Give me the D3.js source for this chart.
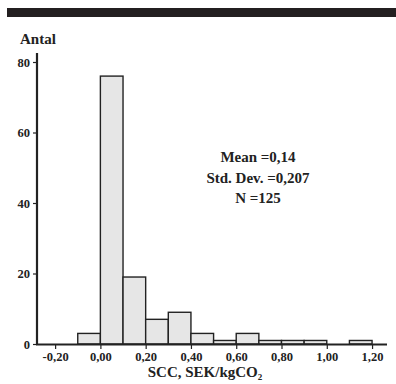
<!DOCTYPE html>
<html>
<head>
<meta charset="utf-8">
<script src="https://cdn.jsdelivr.net/npm/d3@7"></script>
<style>
body { margin: 0; background: #fff; }
text { font-family: "Liberation Serif", "DejaVu Serif", serif; font-weight: bold; fill: #222; }
</style>
</head>
<body>
<div id="chart"></div>
<script>
// histogram bins (lower edge) and counts
var binStarts = [-0.1, 0.0, 0.1, 0.2, 0.3, 0.4, 0.5, 0.6, 0.7, 0.8, 0.9, 1.0, 1.1];
var counts = [3, 76, 19, 7, 9, 3, 1, 3, 1, 1, 1, 0, 1];
var binWidth = 0.1;
var xTicks = [-0.2, 0, 0.2, 0.4, 0.6, 0.8, 1.0, 1.2];
var yTicks = [0, 20, 40, 60, 80];
var statLines = ["Mean =0,14", "Std. Dev. =0,207", "N =125"];

var W = 396, H = 384;
var svg = d3.select("#chart").append("svg")
    .attr("width", W).attr("height", H);

// top band
svg.append("rect")
    .attr("x", 7).attr("y", 8)
    .attr("width", W - 7).attr("height", 9)
    .attr("fill", "#231f20");

var x = d3.scaleLinear().domain([-0.28, 1.266]).range([37, 387]);
var y = d3.scaleLinear().domain([0, 80]).range([344, 62]);

var bars = [];
binStarts.forEach(function (b, i) {
    if (counts[i] > 0) bars.push({x0: b, n: counts[i]});
});

svg.selectAll(".bar")
    .data(bars)
    .enter()
    .append("rect")
    .attr("class", "bar")
    .attr("x", function (d) { return x(d.x0); })
    .attr("y", function (d) { return y(d.n); })
    .attr("width", function (d) { return x(d.x0 + binWidth) - x(d.x0); })
    .attr("height", function (d) { return y(0) - y(d.n); })
    .attr("fill", "#e6e6e6")
    .attr("stroke", "#222")
    .attr("stroke-width", 1.4);

var fmt = function (v) { return d3.format(".2f")(v).replace(".", ",").replace("−", "-"); };

// y axis
var yAxis = svg.append("g").attr("transform", "translate(37,0)")
    .call(d3.axisLeft(y).tickValues(yTicks).tickSize(4).tickPadding(3).tickFormat(d3.format("d")));
yAxis.select(".domain").remove();
yAxis.selectAll("line").attr("stroke", "#222").attr("stroke-width", 1.2);
yAxis.selectAll("text").style("font-size", "12.5px").attr("fill", "#222");
svg.append("line")
    .attr("x1", 37).attr("x2", 37)
    .attr("y1", 53).attr("y2", 345)
    .attr("stroke", "#222").attr("stroke-width", 2.2);

// x axis
var xAxis = svg.append("g").attr("transform", "translate(0,344)")
    .call(d3.axisBottom(x).tickValues(xTicks).tickSize(5).tickPadding(3).tickFormat(fmt));
xAxis.select(".domain").remove();
xAxis.selectAll("line").attr("stroke", "#222").attr("stroke-width", 1.2);
xAxis.selectAll("text").style("font-size", "12.5px").attr("fill", "#222");
svg.append("line")
    .attr("x1", 36).attr("x2", 387)
    .attr("y1", 344.5).attr("y2", 344.5)
    .attr("stroke", "#222").attr("stroke-width", 2.2);

// titles
svg.append("text").attr("x", 20).attr("y", 44)
    .style("font-size", "15px").text("Antal");

var xt = svg.append("text").attr("x", 205).attr("y", 377)
    .attr("text-anchor", "middle").style("font-size", "15px");
xt.append("tspan").text("SCC, SEK/kgCO");
xt.append("tspan").attr("dy", 3).style("font-size", "9px").text("2");

svg.selectAll(".stat")
    .data(statLines)
    .enter()
    .append("text")
    .attr("class", "stat")
    .attr("x", 258)
    .attr("y", function (d, i) { return 162 + i * 20.5; })
    .attr("text-anchor", "middle")
    .style("font-size", "15px")
    .text(function (d) { return d; });
</script>
</body>
</html>
